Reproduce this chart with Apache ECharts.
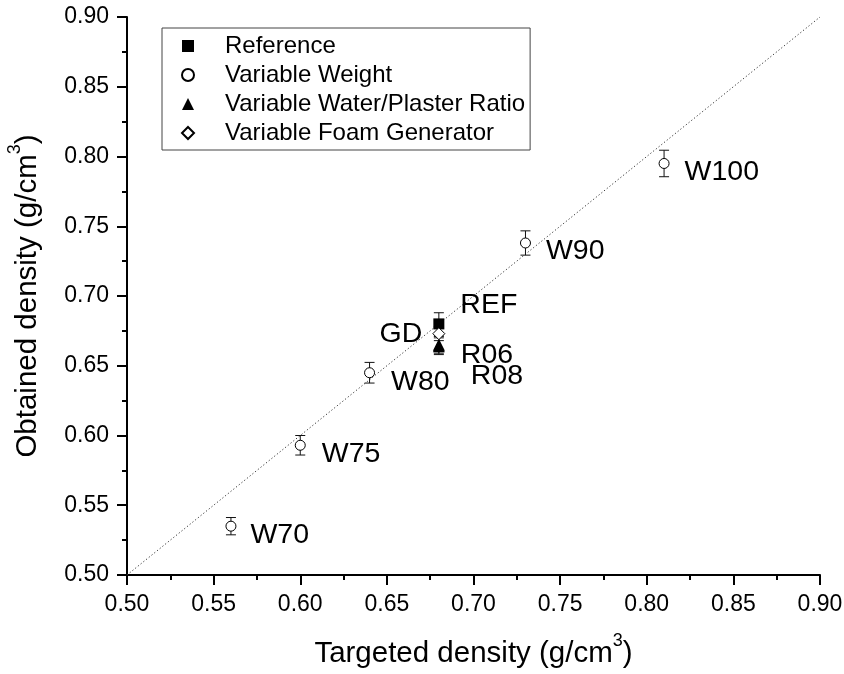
<!DOCTYPE html>
<html>
<head>
<meta charset="utf-8">
<script src="https://cdn.jsdelivr.net/npm/echarts@6/dist/echarts.min.js"></script>
<style>html,body{margin:0;padding:0;background:#fff}#c{width:844px;height:674px}</style>
</head>
<body>
<div id="c"></div>
<script>
// ---- data ----
const xTicks = [0.50, 0.55, 0.60, 0.65, 0.70, 0.75, 0.80, 0.85, 0.90];
const yTicks = [0.50, 0.55, 0.60, 0.65, 0.70, 0.75, 0.80, 0.85, 0.90];

const weightNames = ['W70', 'W75', 'W80', 'W90', 'W100'];
const weightTarget = [0.56, 0.60, 0.64, 0.73, 0.81];
const weightObtained = [0.535, 0.593, 0.645, 0.738, 0.795];
const weightErr = [0.0062, 0.0070, 0.0074, 0.0087, 0.0095];

const refNames = ['REF'];
const refTarget = [0.68];
const refObtained = [0.680];
const refErr = [0.008];

const ratioNames = ['R06', 'R08'];
const ratioTarget = [0.68, 0.68];
const ratioObtained = [0.665, 0.664];
const ratioErr = [0.006, 0.006];

const foamNames = ['GD'];
const foamTarget = [0.68];
const foamObtained = [0.673];
const foamErr = [0.005];

const diagonal = [[0.5, 0.5], [0.9, 0.9]];

const legendNames = ['Reference', 'Variable Weight', 'Variable Water/Plaster Ratio', 'Variable Foam Generator'];

// ---- label placement (style, not data) ----
const labelPlace = {
  W70: {position: 'right', offset: [9, 9]},
  W75: {position: 'right', offset: [11, 9]},
  W80: {position: 'right', offset: [11, 9]},
  W90: {position: 'right', offset: [10, 8]},
  W100: {position: 'right', offset: [10, 9]},
  REF: {position: 'right', offset: [11, -19]},
  GD: {position: 'left', offset: [-5, 0]},
  R06: {position: 'right', offset: [11, 10]},
  R08: {position: 'right', offset: [21, 30]}
};

const FONT = 'Liberation Sans, Arial, sans-serif';

function pts(names, xs, ys) {
  return names.map((n, i) => ({
    name: n,
    value: [xs[i], ys[i]],
    label: Object.assign({show: true, formatter: n}, labelPlace[n])
  }));
}
function errs(xs, ys, es) {
  return xs.map((x, i) => [x, ys[i], es[i]]);
}
const allErr = [].concat(
  errs(weightTarget, weightObtained, weightErr),
  errs(refTarget, refObtained, refErr),
  errs(ratioTarget, ratioObtained, ratioErr),
  errs(foamTarget, foamObtained, foamErr)
);

const labelStyle = {fontSize: 28.5, color: '#000', fontFamily: FONT};

const chart = echarts.init(document.getElementById('c'), null, {renderer: 'canvas'});

const axisCommon = {
  type: 'value',
  min: 0.5, max: 0.9, interval: 0.05,
  splitLine: {show: false},
  axisLine: {show: true, onZero: false, lineStyle: {color: '#000', width: 2}},
  axisTick: {show: true, inside: false, length: 10, lineStyle: {color: '#000', width: 2}},
  minorTick: {show: true, splitNumber: 2, length: 5, lineStyle: {color: '#000', width: 2}},
  axisLabel: {fontSize: 23, color: '#000', fontFamily: FONT, margin: 18,
    formatter: v => v.toFixed(2)}
};

const titleStyle = {fontSize: 29.5, color: '#000', fontFamily: FONT, lineHeight: 44,
  rich: {s: {fontSize: 18, color: '#000', fontFamily: FONT, verticalAlign: 'top', lineHeight: 18}}};

chart.setOption({
  animation: false,
  backgroundColor: '#fff',
  grid: {left: 127, right: 24, top: 17, bottom: 99, containLabel: false, outerBoundsMode: 'none'},
  xAxis: Object.assign({}, axisCommon, {
    name: 'Targeted density (g/cm{s|3})',
    nameLocation: 'middle', nameGap: 57,
    nameTextStyle: titleStyle
  }),
  yAxis: Object.assign({}, axisCommon, {
    name: 'Obtained density (g/cm{s|3})',
    nameLocation: 'middle', nameGap: 77, nameRotate: 90,
    nameTextStyle: titleStyle
  }),
  legend: {
    show: true,
    orient: 'vertical',
    left: 162, top: 28,
    padding: [6, 5, 5, 181 - 162],
    itemWidth: 12, itemHeight: 12,
    itemGap: 5,
    borderColor: '#444', borderWidth: 1,
    data: legendNames,
    textStyle: {fontSize: 24, color: '#000', fontFamily: FONT, lineHeight: 24, padding: [0, 0, 0, 26]}
  },
  series: [
    {
      type: 'line', name: 'diag', data: diagonal, symbol: 'none', silent: true,
      lineStyle: {color: '#333', width: 1, type: [1.2, 2.3]}, z: 1
    },
    {
      type: 'custom', name: 'err', data: allErr, z: 2, silent: true,
      renderItem: function (params, api) {
        const x = api.value(0), y = api.value(1), e = api.value(2);
        const top = api.coord([x, y + e]);
        const bot = api.coord([x, y - e]);
        const hw = 5;
        const st = {stroke: '#111', lineWidth: 1};
        return {type: 'group', children: [
          {type: 'line', shape: {x1: top[0], y1: top[1], x2: bot[0], y2: bot[1]}, style: st},
          {type: 'line', shape: {x1: top[0] - hw, y1: top[1], x2: top[0] + hw, y2: top[1]}, style: st},
          {type: 'line', shape: {x1: bot[0] - hw, y1: bot[1], x2: bot[0] + hw, y2: bot[1]}, style: st}
        ]};
      }
    },
    {
      type: 'scatter', name: 'Variable Weight', data: pts(weightNames, weightTarget, weightObtained),
      symbol: 'circle', symbolSize: 10, z: 3,
      itemStyle: {color: '#fff', borderColor: '#000', borderWidth: 1, opacity: 1},
      label: labelStyle
    },
    {
      type: 'scatter', name: 'Variable Foam Generator', data: pts(foamNames, foamTarget, foamObtained),
      symbol: 'diamond', symbolSize: [12, 12], z: 4,
      itemStyle: {color: '#fff', borderColor: '#000', borderWidth: 1, opacity: 1},
      label: labelStyle
    },
    {
      type: 'scatter', name: 'Reference', data: pts(refNames, refTarget, refObtained),
      symbol: 'rect', symbolSize: 11, z: 3,
      itemStyle: {color: '#000', opacity: 1},
      label: labelStyle
    },
    {
      type: 'scatter', name: 'Variable Water/Plaster Ratio', data: pts(ratioNames, ratioTarget, ratioObtained),
      symbol: 'triangle', symbolSize: 12, z: 3,
      itemStyle: {color: '#000', opacity: 1},
      label: labelStyle
    }
  ]
});
</script>
</body>
</html>
